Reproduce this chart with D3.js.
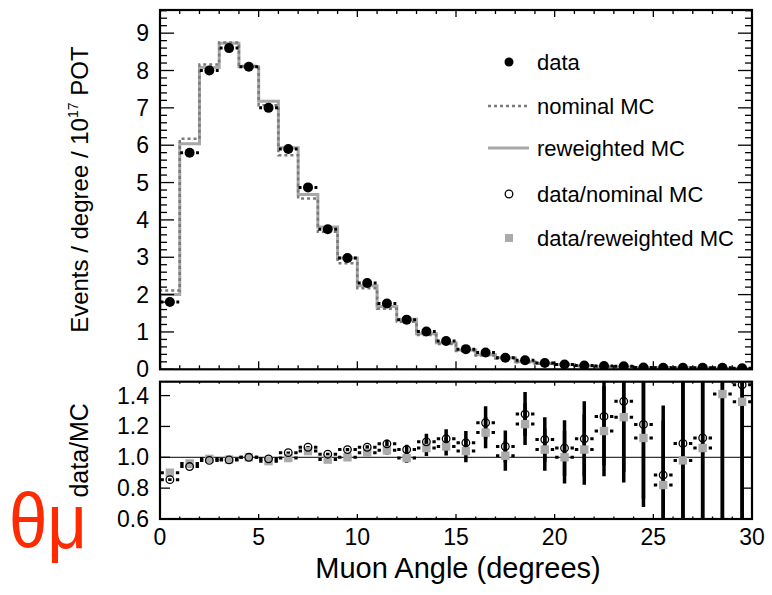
<!DOCTYPE html>
<html>
<head>
<meta charset="utf-8">
<script src="https://cdn.jsdelivr.net/npm/d3@7/dist/d3.min.js"></script>
<style>
    body { margin: 0; background: #fff; }
    svg { font-family: "Liberation Sans", Arial, Helvetica, sans-serif; }
</style>
</head>
<body>
<div id="chart"></div>
<script>

// Bins (degrees, low edge of each 1 degree bin)
const binLow = [0, 1, 2, 3, 4, 5, 6, 7, 8, 9, 10, 11, 12, 13, 14, 15, 16, 17, 18, 19,
    20, 21, 22, 23, 24, 25, 26, 27, 28, 29];

// Events / degree / 1e17 POT
const dataVal = [1.80, 5.80, 8.00, 8.60, 8.10, 7.00, 5.90, 4.87, 3.75, 2.98,
    2.31, 1.76, 1.33, 1.01, 0.76, 0.54, 0.45, 0.31, 0.24, 0.17,
    0.13, 0.10, 0.09, 0.08, 0.05, 0.04, 0.04, 0.04, 0.04, 0.03];
const nominalMC = [2.11, 6.17, 8.16, 8.75, 8.12, 7.07, 5.73, 4.57, 3.68, 2.84,
    2.17, 1.62, 1.27, 0.92, 0.68, 0.49, 0.37, 0.29, 0.19, 0.15,
    0.12, 0.089, 0.071, 0.059, 0.041, 0.045, 0.037, 0.036, 0.025, 0.020];
const reweightedMC = [2.00, 6.04, 8.08, 8.73, 8.10, 7.18, 5.93, 4.68, 3.81, 2.98,
    2.24, 1.68, 1.34, 0.95, 0.71, 0.52, 0.39, 0.31, 0.20, 0.16,
    0.13, 0.095, 0.077, 0.063, 0.044, 0.049, 0.041, 0.038, 0.028, 0.022];

// data / MC
const ratioNominal = [0.855, 0.94, 0.98, 0.983, 1.0, 0.99, 1.03, 1.065, 1.02, 1.05,
    1.065, 1.087, 1.05, 1.10, 1.12, 1.094, 1.224, 1.07, 1.28, 1.115,
    1.06, 1.12, 1.265, 1.363, 1.213, 0.885, 1.09, 1.125, 1.62, 1.47];
const ratioReweighted = [0.90, 0.96, 0.99, 0.985, 1.0, 0.975, 0.995, 1.04, 0.985, 1.0,
    1.03, 1.045, 0.995, 1.06, 1.07, 1.04, 1.16, 1.01, 1.215, 1.05,
    1.0, 1.05, 1.17, 1.26, 1.125, 0.82, 0.98, 1.06, 1.41, 1.36];
// relative statistical error of the data
const relError = [0.010, 0.006, 0.005, 0.005, 0.006, 0.006, 0.007, 0.008, 0.009, 0.010,
    0.012, 0.025, 0.030, 0.048, 0.055, 0.070, 0.087, 0.097, 0.112, 0.130,
    0.170, 0.217, 0.250, 0.336, 0.397, 0.510, 0.650, 0.700, 0.750, 0.800];

const topTicks = [0, 1, 2, 3, 4, 5, 6, 7, 8, 9];
const ratioTicks = [0.6, 0.8, 1.0, 1.2, 1.4];
const xTicks = [0, 5, 10, 15, 20, 25, 30];

const legendLabels = ["data", "nominal MC", "reweighted MC", "data/nominal MC", "data/reweighted MC"];

const W = 772, H = 595;
const left = 160, right = 752;
const topPanel = { top: 10, bottom: 369.3 };
const ratioPanel = { top: 381.7, bottom: 519 };

const x = d3.scaleLinear().domain([0, 30]).range([left, right]);
const yTop = d3.scaleLinear().domain([0, 9.62]).range([topPanel.bottom, topPanel.top]);
const yRat = d3.scaleLinear().domain([0.6, 1.49]).range([ratioPanel.bottom, ratioPanel.top]);

const svg = d3.select("#chart").append("svg")
    .attr("width", W)
    .attr("height", H);

// clip paths for the two frames
const defs = svg.append("defs");
defs.append("clipPath").attr("id", "clipTop").append("rect")
    .attr("x", left).attr("y", topPanel.top)
    .attr("width", right - left).attr("height", topPanel.bottom - topPanel.top);
defs.append("clipPath").attr("id", "clipRat").append("rect")
    .attr("x", left).attr("y", ratioPanel.top)
    .attr("width", right - left).attr("height", ratioPanel.bottom - ratioPanel.top);

const bins = binLow.map((lo, i) => ({
    lo: lo, c: lo + 0.5, hi: lo + 1,
    data: dataVal[i], nom: nominalMC[i], rew: reweightedMC[i],
    rn: ratioNominal[i], rr: ratioReweighted[i], err: relError[i]
}));

// ---------- top panel ----------
const gTop = svg.append("g").attr("clip-path", "url(#clipTop)");

function histPoints(key) {
    let pts = [[0, 0]];
    bins.forEach(b => pts.push([b.lo, b[key]]));
    pts.push([30, bins[bins.length - 1][key]]);
    pts.push([30, 0]);
    return pts;
}
const step = d3.line()
    .x(d => x(d[0]))
    .y(d => yTop(d[1]))
    .curve(d3.curveStepAfter);

gTop.append("path")
    .attr("d", step(histPoints("rew")))
    .attr("fill", "none")
    .attr("stroke", "#a8a8a8")
    .attr("stroke-width", 3);

gTop.append("path")
    .attr("d", step(histPoints("nom")))
    .attr("fill", "none")
    .attr("stroke", "#7a7a7a")
    .attr("stroke-width", 2.5)
    .attr("stroke-dasharray", "3,3");

// data points with x dashes
const rData = 5;
bins.forEach(b => {
    const cy = yTop(b.data), cx = x(b.c);
    gTop.append("line").attr("x1", x(b.lo) + 0.5).attr("x2", cx - rData - 1.5)
        .attr("y1", cy).attr("y2", cy).attr("stroke", "#000").attr("stroke-width", 3);
    gTop.append("line").attr("x1", cx + rData + 1.5).attr("x2", x(b.hi) - 0.5)
        .attr("y1", cy).attr("y2", cy).attr("stroke", "#000").attr("stroke-width", 3);
    gTop.append("line").attr("x1", cx).attr("x2", cx)
        .attr("y1", yTop(b.data * (1 + b.err))).attr("y2", yTop(b.data * (1 - b.err)))
        .attr("stroke", "#000").attr("stroke-width", 2);
});
gTop.selectAll(".dot")
    .data(bins)
    .enter()
    .append("circle")
    .attr("class", "dot")
    .attr("cx", d => x(d.c))
    .attr("cy", d => yTop(d.data))
    .attr("r", rData)
    .attr("fill", "#000");

// ---------- ratio panel ----------
const gRat = svg.append("g").attr("clip-path", "url(#clipRat)");

gRat.append("line")
    .attr("x1", left).attr("x2", right)
    .attr("y1", yRat(1)).attr("y2", yRat(1))
    .attr("stroke", "#000").attr("stroke-width", 1);

// vertical error bars (both ratios)
["rn", "rr"].forEach(k => {
    gRat.selectAll(".eb-" + k)
        .data(bins)
        .enter()
        .append("line")
        .attr("x1", d => x(d.c)).attr("x2", d => x(d.c))
        .attr("y1", d => yRat(d[k] * (1 + d.err)))
        .attr("y2", d => yRat(d[k] * (1 - d.err)))
        .attr("stroke", "#000")
        .attr("stroke-width", 3.5);
});

// horizontal bin dashes
const rRat = 4.5;
["rn", "rr"].forEach(k => {
    bins.forEach(b => {
        const cy = yRat(b[k]), cx = x(b.c);
        gRat.append("line").attr("x1", x(b.lo) + 0.5).attr("x2", cx - rRat - 1.5)
            .attr("y1", cy).attr("y2", cy).attr("stroke", "#000").attr("stroke-width", 3);
        gRat.append("line").attr("x1", cx + rRat + 1.5).attr("x2", x(b.hi) - 0.5)
            .attr("y1", cy).attr("y2", cy).attr("stroke", "#000").attr("stroke-width", 3);
    });
});

gRat.selectAll(".sq")
    .data(bins)
    .enter()
    .append("rect")
    .attr("class", "sq")
    .attr("x", d => x(d.c) - 4.2)
    .attr("y", d => yRat(d.rr) - 4.2)
    .attr("width", 8.4).attr("height", 8.4)
    .attr("fill", "#aaaaaa");

gRat.selectAll(".oc")
    .data(bins)
    .enter()
    .append("circle")
    .attr("class", "oc")
    .attr("cx", d => x(d.c))
    .attr("cy", d => yRat(d.rn))
    .attr("r", 3.8)
    .attr("fill", "none")
    .attr("stroke", "#000")
    .attr("stroke-width", 1.3);

// ---------- frames and ticks ----------
function frame(y0, y1) {
    svg.append("rect")
        .attr("x", left).attr("y", y0)
        .attr("width", right - left).attr("height", y1 - y0)
        .attr("fill", "none").attr("stroke", "#000").attr("stroke-width", 2.2);
}
frame(topPanel.top, topPanel.bottom);
frame(ratioPanel.top, ratioPanel.bottom);

const tickG = svg.append("g").attr("stroke", "#000").attr("stroke-width", 1.3);

// top panel y ticks, major 1, minor 0.2
d3.range(0, 9.61, 0.2).forEach(v => {
    const major = Math.abs(v - Math.round(v)) < 1e-6;
    const len = major ? 14 : 7;
    const yy = yTop(v);
    tickG.append("line").attr("x1", left).attr("x2", left + len).attr("y1", yy).attr("y2", yy);
    tickG.append("line").attr("x1", right).attr("x2", right - len).attr("y1", yy).attr("y2", yy);
});
// x ticks on both panels
d3.range(0, 31, 1).forEach(v => {
    const major = v % 5 === 0;
    const xx = x(v);
    tickG.append("line").attr("x1", xx).attr("x2", xx)
        .attr("y1", topPanel.bottom).attr("y2", topPanel.bottom - (major ? 8 : 4));
    tickG.append("line").attr("x1", xx).attr("x2", xx)
        .attr("y1", topPanel.top).attr("y2", topPanel.top + (major ? 7 : 4));
    tickG.append("line").attr("x1", xx).attr("x2", xx)
        .attr("y1", ratioPanel.bottom).attr("y2", ratioPanel.bottom - (major ? 5 : 2.5));
    tickG.append("line").attr("x1", xx).attr("x2", xx)
        .attr("y1", ratioPanel.top).attr("y2", ratioPanel.top + (major ? 4 : 2));
});
// ratio y ticks
ratioTicks.forEach(v => {
    const yy = yRat(v);
    tickG.append("line").attr("x1", left).attr("x2", left + 10).attr("y1", yy).attr("y2", yy);
    tickG.append("line").attr("x1", right).attr("x2", right - 8).attr("y1", yy).attr("y2", yy);
});

// tick labels
const lab = svg.append("g").attr("font-size", 23).attr("fill", "#000");
topTicks.forEach(v => {
    lab.append("text").attr("x", 149).attr("y", yTop(v) + 8)
        .attr("text-anchor", "end").text(v);
});
ratioTicks.forEach(v => {
    lab.append("text").attr("x", 149).attr("y", yRat(v) + 8)
        .attr("text-anchor", "end").text(v.toFixed(1));
});
xTicks.forEach(v => {
    lab.append("text").attr("x", x(v)).attr("y", 545)
        .attr("text-anchor", "middle").text(v);
});

// axis titles
svg.append("text")
    .attr("x", 458).attr("y", 578)
    .attr("text-anchor", "middle")
    .attr("font-size", 29)
    .text("Muon Angle (degrees)");

const yt = svg.append("text")
    .attr("transform", "translate(88," + ((topPanel.top + topPanel.bottom) / 2) + ") rotate(-90)")
    .attr("text-anchor", "middle")
    .attr("font-size", 24);
yt.append("tspan").text("Events / degree / 10");
yt.append("tspan").attr("font-size", 14).attr("dy", -10).text("17");
yt.append("tspan").attr("dy", 10).text(" POT");

svg.append("text")
    .attr("transform", "translate(88," + ((ratioPanel.top + ratioPanel.bottom) / 2) + ") rotate(-90)")
    .attr("text-anchor", "middle")
    .attr("font-size", 25)
    .text("data/MC");

// red theta_mu
svg.append("text")
    .attr("transform", "translate(9,548) scale(0.92,1.04)")
    .attr("font-size", 75)
    .attr("fill", "#ff2a00")
    .text("θμ");

// ---------- legend ----------
const legY = [62, 106, 148, 194, 238];
const leg = svg.append("g").attr("font-size", 22);
legendLabels.forEach((t, i) => {
    leg.append("text").attr("x", 537).attr("y", legY[i] + 7.5).text(t);
});
leg.append("circle").attr("cx", 509).attr("cy", legY[0]).attr("r", 4.5).attr("fill", "#000");
leg.append("line").attr("x1", 488).attr("x2", 527).attr("y1", legY[1]).attr("y2", legY[1])
    .attr("stroke", "#7a7a7a").attr("stroke-width", 2.5).attr("stroke-dasharray", "3,3");
leg.append("line").attr("x1", 488).attr("x2", 529).attr("y1", legY[2]).attr("y2", legY[2])
    .attr("stroke", "#a8a8a8").attr("stroke-width", 3);
leg.append("circle").attr("cx", 509).attr("cy", legY[3]).attr("r", 3.8)
    .attr("fill", "none").attr("stroke", "#000").attr("stroke-width", 1.3);
leg.append("rect").attr("x", 505).attr("y", legY[4] - 4).attr("width", 8).attr("height", 8)
    .attr("fill", "#aaaaaa");

</script>
</body>
</html>
